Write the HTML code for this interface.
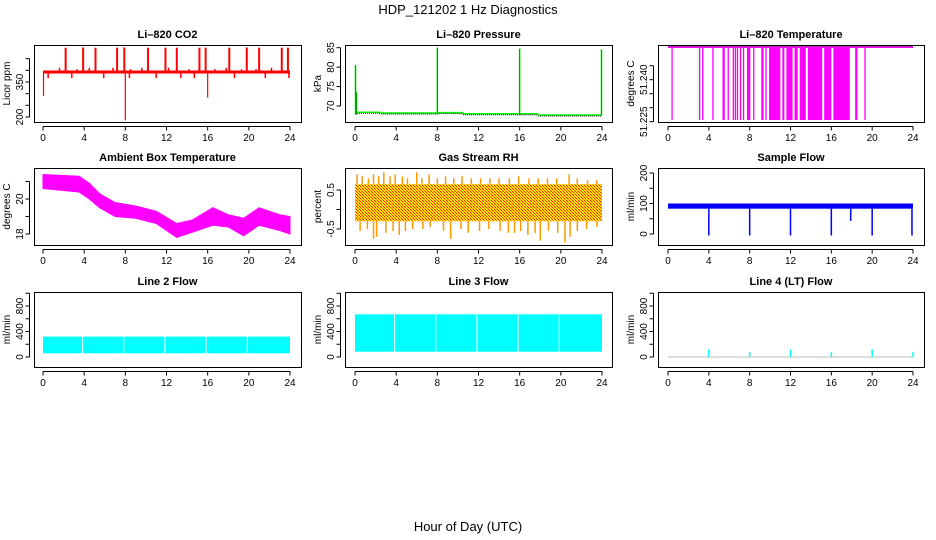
<!DOCTYPE html>
<html><head><meta charset="utf-8">
<style>
html,body{margin:0;padding:0;background:#fff;}
svg{display:block;font-family:"Liberation Sans",Arial,sans-serif;}
.t{font-size:11px;font-weight:bold;text-anchor:middle;}
.tk{font-size:10px;text-anchor:middle;}
</style></head>
<body>
<svg id="c" width="936" height="540" viewBox="0 0 936 540">
<defs>
<pattern id="rhpat" width="3" height="3" patternUnits="userSpaceOnUse">
<rect width="3" height="3" fill="#ffdd00"/><rect x="0" y="0" width="1" height="1" fill="#ff2000"/><rect x="1" y="1" width="1" height="1" fill="#ff8000"/><rect x="2" y="2" width="1" height="1" fill="#ff2000"/>
</pattern>
</defs>
<text x="468" y="14" font-size="13" text-anchor="middle">HDP_121202  1 Hz Diagnostics</text>
<text x="468" y="531" font-size="13" text-anchor="middle">Hour of Day (UTC)</text>
</svg>
<script>
// ---- data ----
const hourTicks=[0,4,8,12,16,20,24];
// CO2
const co2Base=393;
const co2SpikeT=[2.2,3.9,5.1,7.2,7.9,10.2,11.9,13.0,15.2,15.8,18.1,19.8,21.0,23.2,23.8];
const co2SpikeV=[497,498,497,497,498,497,497,497,497,497,497,498,497,497,497];
const co2UpT=[1.6,3.3,4.5,6.8,8.5,9.6,12.2,14.2,16.7,17.8,19.3,20.7,22.2];
const co2UpV=[411,405,411,411,405,411,411,405,405,411,405,405,411];
const co2DownT=[0.5,2.8,5.9,8.4,11.0,13.4,14.7,18.6,21.6,23.9];
const co2DownV=[367,367,367,367,367,367,367,367,367,367];
const co2DropT=[0.05,8.0,16.0];
const co2DropV=[290,186,283];
const co2Ticks=[200,250,300,350,400,450];
const co2Labels=["200","","","350","",""];
// Pressure
const presT=[0,2.5,8,10.5,16,17.8,24];
const presV=[68.4,68.2,68.3,68.0,68.0,67.7,67.7];
const presSpikeT=[0.05,0.15,8.0,16.0,23.95];
const presSpikeV=[80.5,73.5,85,84.8,84.5];
const presTicks=[70,75,80,85];
// Li-820 temperature
const ltTop=51.2516, ltBottom=51.2256;
const ltDropT=[0.4,3.1,3.4,4.4,5.4,5.5,5.9,6.4,6.6,6.8,7.1,7.4,7.8,7.9,8.0,8.4,9.2,9.3,9.6,18.4,18.5,19.3];
const ltBlockStart=[9.9,11.2,11.6,12.4,12.9,13.7,15.3,16.2];
const ltBlockEnd=[11.0,11.4,12.2,12.7,13.5,15.1,16.0,17.8];
const ltTicks=[51.225,51.230,51.235,51.240,51.245];
const ltLabels=["51.225","","","51.240",""];
// Ambient box temperature
const ambT=[0,3.5,4.5,5.5,7,9,11,13,14.5,16.5,18,19.5,21,23,24];
const ambLo=[20.6,20.4,20.0,19.5,19.0,18.9,18.6,17.8,18.1,18.5,18.4,17.9,18.5,18.2,18.0];
const ambHi=[21.4,21.3,20.9,20.3,19.8,19.6,19.3,18.6,18.8,19.5,19.1,18.9,19.5,19.1,19.0];
const ambTicks=[18,19,20,21];
const ambLabels=["18","","20",""];
// Gas stream RH
const rhLo=-0.3, rhHi=0.65;
const rhUpT=[0.2,0.7,1.3,1.8,2.3,2.8,3.4,3.9,4.6,5.1,6.0,6.5,7.2,8.0,8.8,9.6,10.4,11.3,12.2,13.1,14.0,15.0,15.9,16.9,17.8,18.7,19.6,20.8,21.6,22.6,23.5];
const rhUpV=[0.9,0.85,0.8,0.9,0.85,0.95,0.85,0.9,0.85,0.8,0.95,0.8,0.9,0.8,0.85,0.8,0.85,0.8,0.8,0.8,0.8,0.8,0.85,0.8,0.8,0.8,0.8,0.9,0.8,0.75,0.75];
const rhDnT=[0.5,1.2,1.8,2.1,3.0,3.7,4.3,4.9,5.6,6.6,7.3,8.6,9.3,10.3,11.0,12.1,13.0,14.1,14.9,15.5,16.1,16.8,17.5,18.0,18.8,19.7,20.4,20.9,21.6,22.5,23.5];
const rhDnV=[-0.55,-0.5,-0.75,-0.7,-0.6,-0.55,-0.65,-0.55,-0.5,-0.5,-0.45,-0.55,-0.75,-0.5,-0.6,-0.55,-0.5,-0.55,-0.6,-0.6,-0.55,-0.65,-0.6,-0.8,-0.55,-0.6,-0.85,-0.7,-0.55,-0.5,-0.45];
const rhTicks=[-0.5,0,0.5];
const rhLabels=["-0.5","","0.5"];
// Sample flow
const sfLo=83, sfHi=100;
const sfDipT=[4.0,8.0,12.0,16.0,20.0,23.9,17.9];
const sfDipV=[-5,-5,-5,-5,-5,-5,43];
const sfTicks=[0,50,100,150,200];
const sfLabels=["0","","100","","200"];
// Line flows
const l2Lo=58, l2Hi=320;
const l3Lo=83, l3Hi=670;
const lineGapT=[3.85,7.85,11.85,15.85,19.85];
const l4SpikeT=[4.0,8.0,12.0,16.0,20.0,24.0];
const l4SpikeV=[120,80,120,80,120,80];
const flowTicks=[0,200,400,600,800,1000];
const flowLabels=["0","","400","","800",""];

// ---- layout ----
const cols=[{l:34,r:301,x0:43,x1:290},{l:345,r:612,x0:355,x1:602},{l:658,r:924,x0:668,x1:913}];
const rows=[{t:45,b:122},{t:168,b:245},{t:292,b:367}];
const svg=document.getElementById('c');
const NS='http://www.w3.org/2000/svg';
function mk(tag,attrs,parent){const e=document.createElementNS(NS,tag);for(const k in attrs)e.setAttribute(k,attrs[k]);(parent||svg).appendChild(e);return e;}

function panel(name,ci,ri,title,ylab,ymin,ymax,ypx0,ypx1,yt,yl){
  const c=cols[ci],r=rows[ri];
  const g=mk('g',{});
  
  
  const X=h=>c.x0+(c.x1-c.x0)*h/24;
  const Y=v=>ypx0+(ypx1-ypx0)*(v-ymin)/(ymax-ymin);
  const tt=mk('text',{x:(c.l+c.r)/2,y:r.t-7,class:'t'},g);tt.textContent=title;
  
  
  const yl2=mk('text',{x:0,y:0,class:'tk',transform:`translate(${c.l-24},${(r.t+r.b)/2}) rotate(-90)`},g);yl2.textContent=ylab;
  
  
  const ax=mk('g',{stroke:'#000','stroke-width':1},g);
  
  
  mk('line',{x1:c.x0,x2:c.x1,y1:r.b+4.5,y2:r.b+4.5},ax);
  hourTicks.forEach(h=>{mk('line',{x1:X(h),x2:X(h),y1:r.b+4.5,y2:r.b+8.5},ax);
    const t=mk('text',{x:X(h),y:r.b+19,class:'tk',stroke:'none'},ax);t.textContent=h;});
  const yv=yt.map(Y);
  mk('line',{x1:c.l-4.5,x2:c.l-4.5,y1:Math.min(...yv),y2:Math.max(...yv)},ax);
  yt.forEach((v,i)=>{mk('line',{x1:c.l-8.5,x2:c.l-4.5,y1:Y(v),y2:Y(v)},ax);
    if(yl[i]){const t=mk('text',{x:0,y:0,class:'tk',stroke:'none',transform:`translate(${c.l-11},${Y(v)}) rotate(-90)`},ax);t.textContent=yl[i];}});
  const data=mk('g',{},g);
  
  
  const box=mk('rect',{x:c.l+0.5,y:r.t+0.5,width:c.r-c.l,height:r.b-r.t,fill:'none',stroke:'#000'},g);
  
  
  return {X,Y,g:data};
}
function vline(p,h,v0,v1,col,w){return mk('line',{x1:p.X(h),x2:p.X(h),y1:p.Y(v0),y2:p.Y(v1),stroke:col,'stroke-width':w||1.5},p.g);}
function band(p,ts,lo,hi,fill){let d='M'+ts.map((t,i)=>p.X(t)+','+p.Y(hi[i])).join('L');
  for(let i=ts.length-1;i>=0;i--)d+='L'+p.X(ts[i])+','+p.Y(lo[i]);
  return mk('path',{d:d+'Z',fill:fill,stroke:fill==='url(#rhpat)'?'none':fill,'stroke-width':1},p.g);}

// CO2
let p=panel('co2',0,0,'Li\u2013820 CO2','Licor ppm',200,350,117,82,co2Ticks,co2Labels);
mk('line',{x1:p.X(0),x2:p.X(24),y1:p.Y(co2Base),y2:p.Y(co2Base),stroke:'#f00','stroke-width':3},p.g);
co2SpikeT.forEach((t,i)=>vline(p,t,co2Base,co2SpikeV[i],'#f00',2));
co2UpT.forEach((t,i)=>vline(p,t,co2Base,co2UpV[i],'#f00',1.5));
co2DownT.forEach((t,i)=>vline(p,t,co2Base,co2DownV[i],'#f00',1.5));
co2DropT.forEach((t,i)=>vline(p,t,co2Base,co2DropV[i],'#f00',1.2));

// Pressure
p=panel('pressure',1,0,'Li\u2013820 Pressure','kPa',70,85,106,47.7,presTicks,presTicks.map(String));
for(let i=0;i<presT.length-1;i++){mk('line',{x1:p.X(presT[i]),x2:p.X(presT[i+1]),y1:p.Y(presV[i]),y2:p.Y(presV[i]),stroke:'#0f0','stroke-width':1.5},p.g);
  mk('line',{x1:p.X(presT[i]),x2:p.X(presT[i+1]),y1:p.Y(presV[i])+1,y2:p.Y(presV[i])+1,stroke:'#000','stroke-width':1,'stroke-dasharray':'1,1'},p.g);}
presSpikeT.forEach((t,i)=>{vline(p,t,presV[0]-0.6,presSpikeV[i],'#0f0',1.5);vline(p,t,presV[0]-0.6,presSpikeV[i],'#000',0.8).setAttribute('stroke-dasharray','1,1');});

// Li-820 temperature
p=panel('li820-temp',2,0,'Li\u2013820 Temperature','degrees C',51.225,51.230,121.7,107.7,ltTicks,ltLabels);
mk('line',{x1:p.X(0),x2:p.X(24),y1:p.Y(ltTop),y2:p.Y(ltTop),stroke:'#f0f','stroke-width':1.5},p.g);
mk('line',{x1:p.X(0),x2:p.X(24),y1:p.Y(ltTop)-1,y2:p.Y(ltTop)-1,stroke:'#555','stroke-width':0.6},p.g);
ltDropT.forEach(t=>vline(p,t,ltTop,ltBottom,'#f0f',1.3));
ltBlockStart.forEach((s,i)=>mk('rect',{x:p.X(s),y:p.Y(ltTop),width:p.X(ltBlockEnd[i])-p.X(s),height:p.Y(ltBottom)-p.Y(ltTop),fill:'#f0f'},p.g));

// Ambient
p=panel('ambient-temp',0,1,'Ambient Box Temperature','degrees C',18,20,234,199,ambTicks,ambLabels);
band(p,ambT,ambLo,ambHi,'#f0f');

// RH
p=panel('gas-rh',1,1,'Gas Stream RH','percent',-0.5,0.5,229,190,rhTicks,rhLabels);
mk('rect',{x:p.X(0),y:p.Y(rhHi),width:p.X(24)-p.X(0),height:p.Y(rhLo)-p.Y(rhHi),fill:'url(#rhpat)'},p.g);
rhUpT.forEach((t,i)=>vline(p,t,rhHi,rhUpV[i],'#f90',1.5));
rhDnT.forEach((t,i)=>vline(p,t,rhLo,rhDnV[i],'#f90',1.5));

// Sample flow
p=panel('sample-flow',2,1,'Sample Flow','ml/min',0,200,234,173,sfTicks,sfLabels);
mk('rect',{x:p.X(0),y:p.Y(sfHi),width:p.X(24)-p.X(0),height:p.Y(sfLo)-p.Y(sfHi),fill:'#00f'},p.g);
sfDipT.forEach((t,i)=>vline(p,t,sfLo,sfDipV[i],'#00f',1.5));

// Line 2
p=panel('line2-flow',0,2,'Line 2 Flow','ml/min',0,800,357,306,flowTicks,flowLabels);
mk('rect',{x:p.X(0),y:p.Y(l2Hi),width:p.X(24)-p.X(0),height:p.Y(l2Lo)-p.Y(l2Hi),fill:'#0ff'},p.g);
lineGapT.forEach(t=>vline(p,t,l2Lo,l2Hi,'#fff',1));
// Line 3
p=panel('line3-flow',1,2,'Line 3 Flow','ml/min',0,800,357,306,flowTicks,flowLabels);
mk('rect',{x:p.X(0),y:p.Y(l3Hi),width:p.X(24)-p.X(0),height:p.Y(l3Lo)-p.Y(l3Hi),fill:'#0ff'},p.g);
lineGapT.forEach(t=>vline(p,t,l3Lo,l3Hi,'#fff',1));
// Line 4
p=panel('line4-flow',2,2,'Line 4 (LT) Flow','ml/min',0,800,357,306,flowTicks,flowLabels);
mk('line',{x1:p.X(0),x2:p.X(24),y1:p.Y(0),y2:p.Y(0),stroke:'#bbb','stroke-width':1},p.g);
l4SpikeT.forEach((t,i)=>vline(p,t,0,l4SpikeV[i],'#0ff',1.5));
</script>
</body></html>
